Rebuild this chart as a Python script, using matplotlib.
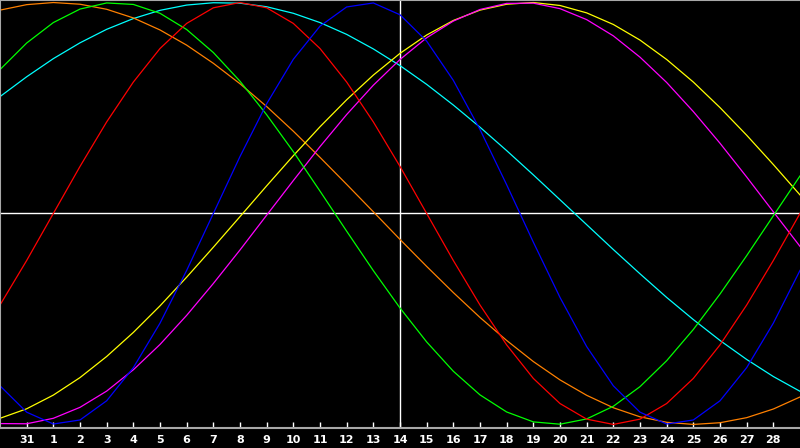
import matplotlib
matplotlib.use("Agg")
import matplotlib.pyplot as plt

# day index 0..30 (index 15 = today, day 14)
days = list(range(31))
tick_pos = list(range(1, 30))
tick_labels = ["31"] + [str(d) for d in range(1, 29)]
today = 15

physical = [-0.817, -0.942, -0.998, -0.979, -0.888, -0.731, -0.520, -0.270, 0.000, 0.270,
            0.520, 0.731, 0.888, 0.979, 0.998, 0.942, 0.817, 0.631, 0.398, 0.136,
            -0.136, -0.398, -0.631, -0.817, -0.942, -0.998, -0.979, -0.888, -0.731, -0.520,
            -0.270]
emotional = [-0.434, -0.223, 0.000, 0.223, 0.434, 0.623, 0.782, 0.901, 0.975, 1.000,
             0.975, 0.901, 0.782, 0.623, 0.434, 0.223, 0.000, -0.223, -0.434, -0.623,
             -0.782, -0.901, -0.975, -1.000, -0.975, -0.901, -0.782, -0.623, -0.434, -0.223,
             0.000]
intellectual = [0.682, 0.808, 0.905, 0.969, 0.998, 0.991, 0.949, 0.872, 0.763, 0.627,
                0.468, 0.293, 0.106, -0.084, -0.271, -0.448, -0.609, -0.748, -0.860, -0.941,
                -0.988, -0.999, -0.974, -0.914, -0.821, -0.698, -0.550, -0.382, -0.200, -0.011,
                0.178]
intuition = [-0.996, -0.997, -0.971, -0.919, -0.842, -0.741, -0.621, -0.483, -0.332, -0.173,
             -0.008, 0.156, 0.317, 0.469, 0.608, 0.730, 0.833, 0.912, 0.967, 0.996,
             0.997, 0.971, 0.919, 0.842, 0.741, 0.621, 0.483, 0.333, 0.173, 0.008,
             -0.156]
aesthetic = [-0.971, -0.926, -0.861, -0.778, -0.678, -0.564, -0.438, -0.302, -0.160, -0.015,
             0.131, 0.274, 0.411, 0.539, 0.656, 0.759, 0.846, 0.915, 0.964, 0.992,
             1.000, 0.986, 0.951, 0.896, 0.822, 0.730, 0.623, 0.502, 0.371, 0.232,
             0.088]
awareness = [0.964, 0.990, 1.000, 0.992, 0.968, 0.927, 0.870, 0.798, 0.712, 0.615,
             0.507, 0.390, 0.266, 0.138, 0.008, -0.123, -0.251, -0.375, -0.493, -0.602,
             -0.702, -0.789, -0.862, -0.921, -0.964, -0.990, -1.000, -0.992, -0.968, -0.927,
             -0.870]
spiritual = [0.554, 0.648, 0.734, 0.809, 0.873, 0.924, 0.963, 0.988, 0.999, 0.997,
             0.980, 0.949, 0.905, 0.849, 0.780, 0.701, 0.612, 0.514, 0.409, 0.298,
             0.183, 0.065, -0.053, -0.171, -0.286, -0.398, -0.503, -0.602, -0.692, -0.773,
             -0.843]

series = [
    (spiritual, "#00ffff"),
    (awareness, "#ff8000"),
    (aesthetic, "#ffff00"),
    (intuition, "#ff00ff"),
    (intellectual, "#00ff00"),
    (emotional, "#ff0000"),
    (physical, "#0000ff"),
]

fig = plt.figure(figsize=(8.0, 4.48), dpi=100, facecolor="black")
ax = fig.add_axes([0.0, 20 / 448, 1.0, 428 / 448], facecolor="black")

ax.axhline(0, color="white", lw=1.0, zorder=1)
ax.axvline(today, color="white", lw=1.0, zorder=1)

for values, color in series:
    ax.plot(days, values, color=color, lw=0.9, zorder=2)

ax.set_xlim(0, 30)
ax.set_ylim(-1.017, 1.012)
ax.set_yticks([])
ax.set_xticks(tick_pos)
ax.set_xticklabels(tick_labels, fontsize=8, fontweight="bold", color="white")
ax.tick_params(axis="x", direction="in", length=4, width=1, color="white", pad=5)

for side in ("left", "top", "bottom"):
    ax.spines[side].set_color("#a8a8a8")
    ax.spines[side].set_linewidth(1.5)
ax.spines["right"].set_visible(False)

fig.savefig("out.png", dpi=100, facecolor="black")
